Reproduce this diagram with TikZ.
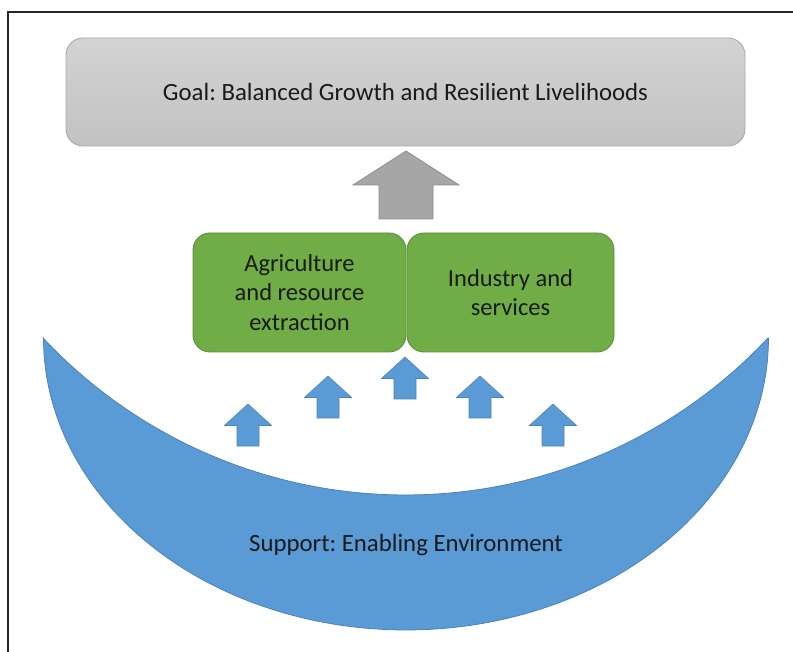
\documentclass[tikz,border=0pt]{standalone}
\usepackage{fontspec}
\setmainfont{Carlito}
\frenchspacing
\definecolor{bluefill}{HTML}{5B9BD5}
\definecolor{blueline}{HTML}{4A82BA}
\definecolor{greenfill}{HTML}{70AD47}
\definecolor{greenline}{HTML}{5A8F38}
\definecolor{grayfill}{HTML}{A6A6A6}
\definecolor{grayline}{HTML}{8C8C8C}
\definecolor{goaltop}{HTML}{D3D3D3}
\definecolor{goalbot}{HTML}{C2C2C2}
\definecolor{goalline}{HTML}{A9A9A9}
\definecolor{txt}{HTML}{1A1A1A}
\begin{document}
\begin{tikzpicture}[x=1pt,y=-1pt,
  frameline/.style={line width=1.3pt, draw=black!85},
  goalbox/.style={draw=goalline, line width=0.9pt, rounded corners=17pt,
    top color=goaltop, bottom color=goalbot,
    minimum width=679pt, minimum height=108pt, inner sep=0pt,
    font=\fontsize{24.8}{29.5}\selectfont, text=txt},
  sectorbox/.style={draw=greenline, fill=greenfill, line width=0.9pt, rounded corners=17pt,
    minimum height=119pt, inner sep=0pt, align=center,
    font=\fontsize{24.5}{29.5}\selectfont, text=txt},
  supporttext/.style={font=\fontsize{24.8}{29.5}\selectfont, text=txt, inner sep=0pt},
  moon/.style={fill=bluefill, draw=blueline, line width=0.8pt},
  bluearrow/.style={fill=bluefill, draw=blueline, line width=0.6pt},
  grayarrow/.style={fill=grayfill, draw=grayline, line width=0.8pt},
  smallup/.pic={\path[pic actions] (0,0) -- (-23.5,21.5) -- (-11,21.5) -- (-11,42) -- (11,42) -- (11,21.5) -- (23.5,21.5) -- cycle;},
  bigup/.pic={\path[pic actions] (0,0) -- (-53,34) -- (-27,34) -- (-27,68) -- (27,68) -- (27,34) -- (53,34) -- cycle;}
]
\useasboundingbox (0,0) rectangle (793,652);
% frame (left and top edges)
\draw[frameline] (8,652) -- (8,12) -- (793,12);

% goal box
\node[goalbox] (goal) at (405.5,92) {Goal: Balanced Growth and Resilient Livelihoods};

% gray arrow
\pic[grayarrow] (uparrow) at (406,151) {bigup};

% moon shape
\path[moon] plot[domain=180:360, samples=120] ({406+362.5*cos(\x)}, {338-292*sin(\x)})
  -- plot[domain=43.2:136.8, samples=120] ({405.5+497*cos(\x)}, {-2+497*sin(\x)}) -- cycle;
\node[supporttext] (support) at (406,545) {Support: Enabling Environment};

% sector boxes
\node[sectorbox, minimum width=213pt] (agri) at (299.5,292.5) {Agriculture\\and resource\\extraction};
\node[sectorbox, minimum width=207pt] (ind) at (510.5,292.5) {Industry and\\services};

% blue arrows
\pic[bluearrow] (a1) at (248,404) {smallup};
\pic[bluearrow] (a2) at (328,376) {smallup};
\pic[bluearrow] (a3) at (405,357) {smallup};
\pic[bluearrow] (a4) at (480,376) {smallup};
\pic[bluearrow] (a5) at (553,404) {smallup};
\end{tikzpicture}
\end{document}
